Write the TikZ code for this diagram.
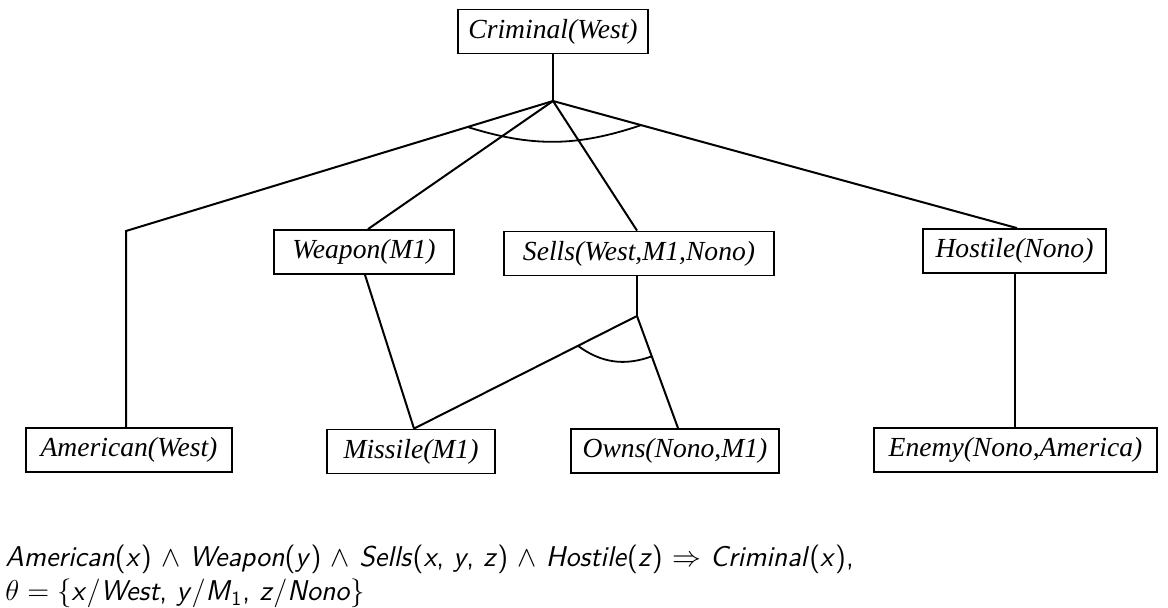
\documentclass[tikz,border=0pt]{standalone}
\usepackage{amsmath}
\usepackage{fontspec}
\newfontfamily\factfont{Liberation Serif}
\usetikzlibrary{calc}
\tikzstyle{node:fact}=[rectangle,draw,line width=0.9pt,minimum height=22pt,inner sep=0pt,font={\factfont\itshape\fontsize{13.8}{16}\selectfont}]
\tikzstyle{node:rule}=[anchor=base west,inner sep=0pt,font={\sffamily\fontsize{14.3}{16}\selectfont}]
\tikzstyle{draw:edge}=[line width=1pt]
\tikzstyle{draw:and}=[line width=0.9pt]

\begin{document}
\begin{tikzpicture}[x=0.5pt,y=-0.5pt]
        \useasboundingbox (0,0) rectangle (1168,608);

        % Goal
        \node[node:fact,minimum width=95pt] (crim) at (553,31.5) {Criminal(West)};

        % Middle row
        \node[node:fact,minimum width=90pt] (weapon) at (364,252) {Weapon(M1)};
        \node[node:fact,minimum width=135pt] (sells) at (639,253.5) {Sells(West,M1,Nono)};
        \node[node:fact,minimum width=91.5pt] (hostile) at (1014.5,251) {Hostile(Nono)};

        % Bottom row (facts)
        \node[node:fact,minimum width=103pt] (american) at (129,450) {American(West)};
        \node[node:fact,minimum width=84pt] (missile) at (411,451.5) {Missile(M1)};
        \node[node:fact,minimum width=104pt] (owns) at (675,451) {Owns(Nono,M1)};
        \node[node:fact,minimum width=141.5pt] (enemy) at (1015.5,450) {Enemy(Nono,America)};

        % Branch points
        \coordinate (top) at (553,101);
        \coordinate (amcorner) at (126,231);
        \coordinate (sj) at (637,316);

        % Edges from the goal
        \draw[draw:edge] (crim.south) -- (top);
        \draw[draw:edge] (top) -- (amcorner) -- (amcorner |- american.north);
        \draw[draw:edge] (top) -- ([xshift=2pt]weapon.north);
        \draw[draw:edge] (top) -- ([xshift=-1pt]sells.north);
        \draw[draw:edge] (top) -- ([xshift=1.25pt]hostile.north);
        \draw[draw:and] ($(top)!0.2!(amcorner)$) to[bend right=18] ($(top)!0.19!([xshift=1.25pt]hostile.north)$);

        % Edges below the middle row
        \draw[draw:edge] ([xshift=0.5pt]weapon.south) -- ([xshift=1.5pt]missile.north);
        \draw[draw:edge] ([xshift=-1pt]sells.south) -- (sj);
        \draw[draw:edge] (sj) -- ([xshift=1.5pt]missile.north);
        \draw[draw:edge] (sj) -- ([xshift=1.5pt]owns.north);
        \draw[draw:and] ($(sj)!0.265!([xshift=1.5pt]missile.north)$) to[bend right=28] ($(sj)!0.36!([xshift=1.5pt]owns.north)$);
        \draw[draw:edge] (hostile.south) -- ([xshift=-0.5pt]enemy.north);

        % The rule and its unifier
        \node[node:rule] (rule) at (5,567) {\textit{American}(\textit{x}) $\wedge$ \textit{Weapon}(\textit{y}) $\wedge$ \textit{Sells}(\textit{x}, \textit{y}, \textit{z}) $\wedge$ \textit{Hostile}(\textit{z}) $\Rightarrow$ \textit{Criminal}(\textit{x}),};
        \node[node:rule] (theta) at (5,601) {$\theta=\{$\textit{x}/\textit{West}, \textit{y}/\textit{M}\textsubscript{1}, \textit{z}/\textit{Nono}$\}$};
\end{tikzpicture}
\end{document}
